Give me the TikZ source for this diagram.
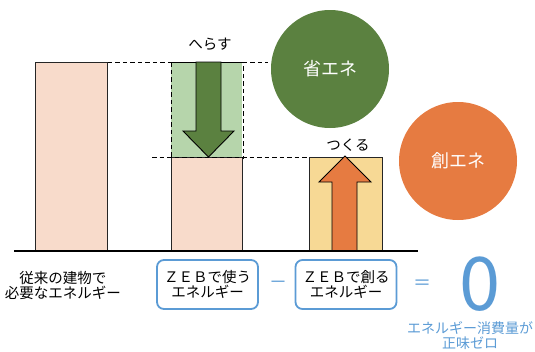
\documentclass[tikz,border=0pt]{standalone}
\usepackage{fontspec}
\setmainfont{Noto Sans CJK JP}
\definecolor{pinkfill}{HTML}{F8DBCB}
\definecolor{lightgreen}{HTML}{B6D5AB}
\definecolor{darkgreen}{HTML}{5B8140}
\definecolor{orangec}{HTML}{E67B41}
\definecolor{yellowfill}{HTML}{F7D995}
\definecolor{blueline}{HTML}{5B9BD5}
\begin{document}
\begin{tikzpicture}[x=1pt,y=-1pt,
  bar/.style={draw=black!85, line width=0.9pt, fill=pinkfill, inner sep=0pt, anchor=north west},
  guide/.style={line width=0.8pt, dash pattern=on 4.5pt off 3pt},
  blockarrow/.style={draw=black, line width=0.9pt, line join=miter},
  bigcircle/.style={circle, minimum size=118pt, inner sep=0pt, text=white, font=\fontsize{18}{20}\selectfont},
  lbl/.style={font=\fontsize{14.5}{15.5}\selectfont, align=center, inner sep=0pt},
  zebbox/.style={draw=blueline, line width=1.8pt, rounded corners=7pt, fill=white, minimum width=101pt, minimum height=49pt, align=center, font=\fontsize{14.5}{15.5}\selectfont, inner sep=0pt},
  bluetext/.style={text=blueline, inner sep=0pt}]
\useasboundingbox (0,0) rectangle (535,351);
% bars
\node[bar, minimum width=72pt, minimum height=189pt] (bar1) at (35,62) {};
\node[bar, draw=none, fill=lightgreen, minimum width=71pt, minimum height=95pt] (cut) at (171,62) {};
\draw[guide] (cut.north west) rectangle (cut.south east);
\node[bar, minimum width=71pt, minimum height=94pt] (bar2) at (171,157) {};
\node[bar, fill=yellowfill, minimum width=73pt, minimum height=94pt] (bar3) at (309,157) {};
% dashed guides
\coordinate (g1) at (268,62);
\coordinate (g2) at (152,157);
\draw[guide] (bar1.north east) -- (g1);
\draw[guide] (g2) -- (bar3.north west);
% green arrow
\draw[blockarrow, fill=darkgreen] (196,62) -- (221,62) -- (221,131) -- (234,131) -- (208.5,157) -- (183,131) -- (196,131) -- cycle;
% orange arrow
\draw[blockarrow, fill=orangec] (332,251) -- (357,251) -- (357,182) -- (371,182) -- (345,156) -- (319,182) -- (332,182) -- cycle;
% baseline
\coordinate (b0) at (14,251);
\coordinate (b1) at (418,251);
\draw[line width=1.6pt] (b0) -- (b1);
% labels above
\node[lbl] (herasu) at (210,44) {へらす};
\node[lbl] (tsukuru) at (348,145) {つくる};
% circles
\node[bigcircle, fill=darkgreen] (shoene) at (330,69) {省エネ};
\node[bigcircle, fill=orangec] (souene) at (458,161) {創エネ};
% bottom texts
\node[lbl] (conv) at (63,285.5) {従来の建物で\\必要なエネルギー};
\node[zebbox] (use) at (207.5,284.5) {ＺＥＢで使う\\エネルギー};
\node[bluetext, font=\fontsize{18}{20}\selectfont] (minus) at (278,285) {－};
\node[zebbox] (make) at (346,284.5) {ＺＥＢで創る\\エネルギー};
\node[bluetext, font=\fontsize{18}{20}\selectfont] (equal) at (422,285) {＝};
\node[bluetext, font=\fontsize{74}{80}\selectfont] (zero) at (480,284) {0};
\node[bluetext, align=center, font=\fontsize{14}{15.5}\selectfont] (net) at (470,335.5) {エネルギー消費量が\\正味ゼロ};
\end{tikzpicture}
\end{document}
